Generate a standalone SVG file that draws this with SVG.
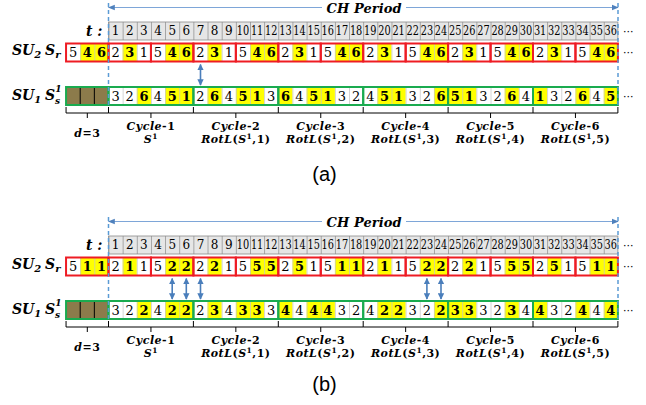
<svg xmlns="http://www.w3.org/2000/svg" width="646" height="405" viewBox="0 0 646 405">
<style>
.num{font-family:"DejaVu Serif","Liberation Serif",serif;font-size:13px;text-anchor:middle;fill:#000}
.b{font-weight:bold}
.tn{font-family:"DejaVu Serif","Liberation Serif",serif;font-size:12px;text-anchor:middle;fill:#000}
.lab{font-family:"DejaVu Serif","Liberation Serif",serif;font-style:italic;font-weight:bold;fill:#000}
.cyc{font-family:"DejaVu Serif","Liberation Serif",serif;font-size:11px;font-weight:bold;letter-spacing:0.5px;text-anchor:middle;fill:#000}
.it{font-style:italic}
.dots{font-family:"DejaVu Sans",sans-serif;font-size:11px;fill:#000}
.cap{font-family:"Liberation Sans",Arial,sans-serif;font-size:20px;text-anchor:middle;fill:#000}
.yel{fill:#ffff00}
.red{fill:none;stroke:#ee1c24;stroke-width:2}
.grn{fill:none;stroke:#1aab4f;stroke-width:2}
.dash{stroke:#5b9bd5;stroke-width:1.5;stroke-dasharray:4 3;fill:none}
.chl{stroke:#7ea6d8;stroke-width:1.2;fill:none}
.br{stroke:#000;stroke-width:1;fill:none}
.arr{stroke:#4a7ebb;stroke-width:1.6;fill:none;marker-start:url(#ah);marker-end:url(#ah)}
</style>
<defs>
<marker id="ah" viewBox="0 0 10 10" refX="9" refY="5" markerWidth="4" markerHeight="4" orient="auto-start-reverse"><path d="M0 0L10 5L0 10z" fill="#4a7ebb"/></marker>
<marker id="cha" viewBox="0 0 10 10" refX="9" refY="5" markerUnits="userSpaceOnUse" markerWidth="7" markerHeight="7" orient="auto-start-reverse"><path d="M0 1L10 5L0 9z" fill="#4f81bd"/></marker>
<pattern id="gl" patternUnits="userSpaceOnUse" x="108.5" y="0" width="14.15" height="405"><line x1="0.4" y1="0" x2="0.4" y2="405" stroke="#c4c4c4" stroke-width="0.8"/></pattern>
<pattern id="tl" patternUnits="userSpaceOnUse" x="108.5" y="0" width="14.15" height="405"><line x1="0.4" y1="0" x2="0.4" y2="405" stroke="#8a8a8a" stroke-width="0.8"/></pattern>
</defs>
<rect width="646" height="405" fill="#fff"/>

<!-- ================= PANEL A ================= -->
<g id="panel-a">
  <g id="a-period">
    <path class="chl" d="M108.5 7.5H322" marker-start="url(#cha)"/>
    <path class="chl" d="M406 7.5H618" marker-end="url(#cha)"/>
    <text class="lab" x="364" y="12.5" font-size="13" text-anchor="middle" textLength="75">CH Period</text>
  </g>
  <g id="a-t">
    <text class="lab" x="86" y="35.5" font-size="14">t :</text>
    <rect x="108.5" y="22" width="509.4" height="18" fill="#e6e6e6" stroke="#8a8a8a" stroke-width="0.8"/>
    <rect x="108.5" y="22" width="509.4" height="18" fill="url(#tl)"/>
    <g class="tn" transform="translate(0,35.4)">
      <text x="115.6">1</text><text x="129.7">2</text><text x="143.9">3</text><text x="158">4</text><text x="172.2">5</text><text x="186.3">6</text><text x="200.5">7</text><text x="214.6">8</text><text x="228.8">9</text>
      <text x="242.9" textLength="12.4" lengthAdjust="spacingAndGlyphs">10</text><text x="257.1" textLength="12.4" lengthAdjust="spacingAndGlyphs">11</text><text x="271.2" textLength="12.4" lengthAdjust="spacingAndGlyphs">12</text><text x="285.4" textLength="12.4" lengthAdjust="spacingAndGlyphs">13</text><text x="299.5" textLength="12.4" lengthAdjust="spacingAndGlyphs">14</text><text x="313.7" textLength="12.4" lengthAdjust="spacingAndGlyphs">15</text><text x="327.8" textLength="12.4" lengthAdjust="spacingAndGlyphs">16</text><text x="342" textLength="12.4" lengthAdjust="spacingAndGlyphs">17</text><text x="356.1" textLength="12.4" lengthAdjust="spacingAndGlyphs">18</text>
      <text x="370.3" textLength="12.4" lengthAdjust="spacingAndGlyphs">19</text><text x="384.4" textLength="12.4" lengthAdjust="spacingAndGlyphs">20</text><text x="398.6" textLength="12.4" lengthAdjust="spacingAndGlyphs">21</text><text x="412.7" textLength="12.4" lengthAdjust="spacingAndGlyphs">22</text><text x="426.9" textLength="12.4" lengthAdjust="spacingAndGlyphs">23</text><text x="441" textLength="12.4" lengthAdjust="spacingAndGlyphs">24</text><text x="455.2" textLength="12.4" lengthAdjust="spacingAndGlyphs">25</text><text x="469.3" textLength="12.4" lengthAdjust="spacingAndGlyphs">26</text><text x="483.5" textLength="12.4" lengthAdjust="spacingAndGlyphs">27</text>
      <text x="497.6" textLength="12.4" lengthAdjust="spacingAndGlyphs">28</text><text x="511.8" textLength="12.4" lengthAdjust="spacingAndGlyphs">29</text><text x="525.9" textLength="12.4" lengthAdjust="spacingAndGlyphs">30</text><text x="540.1" textLength="12.4" lengthAdjust="spacingAndGlyphs">31</text><text x="554.2" textLength="12.4" lengthAdjust="spacingAndGlyphs">32</text><text x="568.4" textLength="12.4" lengthAdjust="spacingAndGlyphs">33</text><text x="582.5" textLength="12.4" lengthAdjust="spacingAndGlyphs">34</text><text x="596.7" textLength="12.4" lengthAdjust="spacingAndGlyphs">35</text><text x="610.8" textLength="12.4" lengthAdjust="spacingAndGlyphs">36</text>
    </g>
    <text class="dots" x="623" y="34.5">···</text>
  </g>
  <g id="a-sr">
    <text class="lab" x="12" y="55" font-size="14">SU<tspan font-size="10" dy="3">2</tspan></text>
    <text class="lab" x="45" y="55" font-size="14">S<tspan font-size="10" dy="3">r</tspan></text>
    <rect x="66.05" y="43.5" width="551.85" height="18" fill="#fff"/>
    <path class="yel" d="M80.2 43.5h14.15v18h-14.15zM94.35 43.5h14.15v18h-14.15zM122.65 43.5h14.15v18h-14.15zM165.1 43.5h14.15v18h-14.15zM179.25 43.5h14.15v18h-14.15zM207.55 43.5h14.15v18h-14.15zM250 43.5h14.15v18h-14.15zM264.15 43.5h14.15v18h-14.15zM292.45 43.5h14.15v18h-14.15zM334.9 43.5h14.15v18h-14.15zM349.05 43.5h14.15v18h-14.15zM377.35 43.5h14.15v18h-14.15zM419.8 43.5h14.15v18h-14.15zM433.95 43.5h14.15v18h-14.15zM462.25 43.5h14.15v18h-14.15zM504.7 43.5h14.15v18h-14.15zM518.85 43.5h14.15v18h-14.15zM547.15 43.5h14.15v18h-14.15zM589.6 43.5h14.15v18h-14.15zM603.75 43.5h14.15v18h-14.15z"/>
    <rect x="66.05" y="43.5" width="551.85" height="18" fill="url(#gl)"/>
    <g class="red">
      <rect x="66.05" y="43.5" width="42.45" height="18"/><rect x="108.5" y="43.5" width="42.45" height="18"/><rect x="150.95" y="43.5" width="42.45" height="18"/><rect x="193.4" y="43.5" width="42.45" height="18"/><rect x="235.85" y="43.5" width="42.45" height="18"/><rect x="278.3" y="43.5" width="42.45" height="18"/><rect x="320.75" y="43.5" width="42.45" height="18"/><rect x="363.2" y="43.5" width="42.45" height="18"/><rect x="405.65" y="43.5" width="42.45" height="18"/><rect x="448.1" y="43.5" width="42.45" height="18"/><rect x="490.55" y="43.5" width="42.45" height="18"/><rect x="533" y="43.5" width="42.45" height="18"/><rect x="575.45" y="43.5" width="42.45" height="18"/>
    </g>
    <g class="num" transform="translate(0,57.2)">
      <text x="73.1">5</text><text x="87.3" class="b">4</text><text x="101.4" class="b">6</text>
      <text x="115.6">2</text><text x="129.7" class="b">3</text><text x="143.9">1</text><text x="158">5</text><text x="172.2" class="b">4</text><text x="186.3" class="b">6</text>
      <text x="200.5">2</text><text x="214.6" class="b">3</text><text x="228.8">1</text><text x="242.9">5</text><text x="257.1" class="b">4</text><text x="271.2" class="b">6</text>
      <text x="285.4">2</text><text x="299.5" class="b">3</text><text x="313.7">1</text><text x="327.8">5</text><text x="342" class="b">4</text><text x="356.1" class="b">6</text>
      <text x="370.3">2</text><text x="384.4" class="b">3</text><text x="398.6">1</text><text x="412.7">5</text><text x="426.9" class="b">4</text><text x="441" class="b">6</text>
      <text x="455.2">2</text><text x="469.3" class="b">3</text><text x="483.5">1</text><text x="497.6">5</text><text x="511.8" class="b">4</text><text x="525.9" class="b">6</text>
      <text x="540.1">2</text><text x="554.2" class="b">3</text><text x="568.4">1</text><text x="582.5">5</text><text x="596.7" class="b">4</text><text x="610.8" class="b">6</text>
    </g>
    <text class="dots" x="623" y="56">···</text>
  </g>
  <g id="a-ss">
    <text class="lab" x="12" y="100" font-size="14">SU<tspan font-size="10" dy="3">1</tspan></text>
    <text class="lab" x="45" y="100" font-size="14">S<tspan font-size="9" dy="-8">1</tspan><tspan font-size="9" x="55" dy="12">s</tspan></text>
    <rect x="66.05" y="87" width="42.45" height="18" fill="#8c7b4b"/>
    <path d="M80.2 87v18M94.35 87v18" stroke="#000" stroke-width="1"/>
    <rect x="108.5" y="87" width="509.4" height="18" fill="#fff"/>
    <path class="yel" d="M136.8 87h14.15v18h-14.15zM165.1 87h14.15v18h-14.15zM179.25 87h14.15v18h-14.15zM207.55 87h14.15v18h-14.15zM235.85 87h14.15v18h-14.15zM250 87h14.15v18h-14.15zM278.3 87h14.15v18h-14.15zM306.6 87h14.15v18h-14.15zM320.75 87h14.15v18h-14.15zM377.35 87h14.15v18h-14.15zM391.5 87h14.15v18h-14.15zM433.95 87h14.15v18h-14.15zM448.1 87h14.15v18h-14.15zM462.25 87h14.15v18h-14.15zM504.7 87h14.15v18h-14.15zM533 87h14.15v18h-14.15zM575.45 87h14.15v18h-14.15zM603.75 87h14.15v18h-14.15z"/>
    <rect x="108.5" y="87" width="509.4" height="18" fill="url(#gl)"/>
    <g class="grn">
      <rect x="66.05" y="87" width="42.45" height="18"/><rect x="108.5" y="87" width="84.9" height="18"/><rect x="193.4" y="87" width="84.9" height="18"/><rect x="278.3" y="87" width="84.9" height="18"/><rect x="363.2" y="87" width="84.9" height="18"/><rect x="448.1" y="87" width="84.9" height="18"/><rect x="533" y="87" width="84.9" height="18"/>
    </g>
    <g class="num" transform="translate(0,100.7)">
      <text x="115.6">3</text><text x="129.7">2</text><text x="143.9" class="b">6</text><text x="158">4</text><text x="172.2" class="b">5</text><text x="186.3" class="b">1</text>
      <text x="200.5">2</text><text x="214.6" class="b">6</text><text x="228.8">4</text><text x="242.9" class="b">5</text><text x="257.1" class="b">1</text><text x="271.2">3</text>
      <text x="285.4" class="b">6</text><text x="299.5">4</text><text x="313.7" class="b">5</text><text x="327.8" class="b">1</text><text x="342">3</text><text x="356.1">2</text>
      <text x="370.3">4</text><text x="384.4" class="b">5</text><text x="398.6" class="b">1</text><text x="412.7">3</text><text x="426.9">2</text><text x="441" class="b">6</text>
      <text x="455.2" class="b">5</text><text x="469.3" class="b">1</text><text x="483.5">3</text><text x="497.6">2</text><text x="511.8" class="b">6</text><text x="525.9">4</text>
      <text x="540.1" class="b">1</text><text x="554.2">3</text><text x="568.4">2</text><text x="582.5" class="b">6</text><text x="596.7">4</text><text x="610.8" class="b">5</text>
    </g>
    <text class="dots" x="623" y="99.5">···</text>
  </g>
  <g id="a-dashes">
    <path class="dash" d="M108.5 3V107M618 3V107"/>
  </g>
  <g id="a-brackets">
    <path class="br" d="M66.05 107V113H108.5V107M87.3 113V118M108.5 113H193.4V107M150.95 113V118M193.4 113H278.3V107M235.85 113V118M278.3 113H363.2V107M320.75 113V118M363.2 113H448.1V107M405.65 113V118M448.1 113H533V107M490.55 113V118M533 113H617.9V107M575.45 113V118"/>
  </g>
  <g id="a-labels" class="cyc">
    <text x="87.3" y="136.5"><tspan class="it">d</tspan>=3</text>
    <text x="150.95" y="130"><tspan class="it">Cycle</tspan>-1</text>
    <text x="150.95" y="143.3"><tspan class="it">S</tspan><tspan font-size="7.5" dy="-4">1</tspan></text>
    <text x="235.85" y="130"><tspan class="it">Cycle</tspan>-2</text>
    <text x="235.85" y="143.3"><tspan class="it">RotL</tspan>(<tspan class="it">S</tspan><tspan font-size="7.5" dy="-4">1</tspan><tspan dy="4">,1)</tspan></text>
    <text x="320.75" y="130"><tspan class="it">Cycle</tspan>-3</text>
    <text x="320.75" y="143.3"><tspan class="it">RotL</tspan>(<tspan class="it">S</tspan><tspan font-size="7.5" dy="-4">1</tspan><tspan dy="4">,2)</tspan></text>
    <text x="405.65" y="130"><tspan class="it">Cycle</tspan>-4</text>
    <text x="405.65" y="143.3"><tspan class="it">RotL</tspan>(<tspan class="it">S</tspan><tspan font-size="7.5" dy="-4">1</tspan><tspan dy="4">,3)</tspan></text>
    <text x="490.55" y="130"><tspan class="it">Cycle</tspan>-5</text>
    <text x="490.55" y="143.3"><tspan class="it">RotL</tspan>(<tspan class="it">S</tspan><tspan font-size="7.5" dy="-4">1</tspan><tspan dy="4">,4)</tspan></text>
    <text x="575.45" y="130"><tspan class="it">Cycle</tspan>-6</text>
    <text x="575.45" y="143.3"><tspan class="it">RotL</tspan>(<tspan class="it">S</tspan><tspan font-size="7.5" dy="-4">1</tspan><tspan dy="4">,5)</tspan></text>
  </g>
  <text class="cap" x="324.5" y="181">(a)</text>
</g>

<!-- ================= PANEL B ================= -->
<g id="panel-b">
 <g transform="translate(0,214)">
  <g id="b-period">
    <path class="chl" d="M108.5 7.5H322" marker-start="url(#cha)"/>
    <path class="chl" d="M406 7.5H618" marker-end="url(#cha)"/>
    <text class="lab" x="364" y="12.5" font-size="13" text-anchor="middle" textLength="75">CH Period</text>
  </g>
  <g id="b-t">
    <text class="lab" x="86" y="35.5" font-size="14">t :</text>
    <rect x="108.5" y="22" width="509.4" height="18" fill="#e6e6e6" stroke="#8a8a8a" stroke-width="0.8"/>
    <rect x="108.5" y="22" width="509.4" height="18" fill="url(#tl)"/>
    <g class="tn" transform="translate(0,35.4)">
      <text x="115.6">1</text><text x="129.7">2</text><text x="143.9">3</text><text x="158">4</text><text x="172.2">5</text><text x="186.3">6</text><text x="200.5">7</text><text x="214.6">8</text><text x="228.8">9</text>
      <text x="242.9" textLength="12.4" lengthAdjust="spacingAndGlyphs">10</text><text x="257.1" textLength="12.4" lengthAdjust="spacingAndGlyphs">11</text><text x="271.2" textLength="12.4" lengthAdjust="spacingAndGlyphs">12</text><text x="285.4" textLength="12.4" lengthAdjust="spacingAndGlyphs">13</text><text x="299.5" textLength="12.4" lengthAdjust="spacingAndGlyphs">14</text><text x="313.7" textLength="12.4" lengthAdjust="spacingAndGlyphs">15</text><text x="327.8" textLength="12.4" lengthAdjust="spacingAndGlyphs">16</text><text x="342" textLength="12.4" lengthAdjust="spacingAndGlyphs">17</text><text x="356.1" textLength="12.4" lengthAdjust="spacingAndGlyphs">18</text>
      <text x="370.3" textLength="12.4" lengthAdjust="spacingAndGlyphs">19</text><text x="384.4" textLength="12.4" lengthAdjust="spacingAndGlyphs">20</text><text x="398.6" textLength="12.4" lengthAdjust="spacingAndGlyphs">21</text><text x="412.7" textLength="12.4" lengthAdjust="spacingAndGlyphs">22</text><text x="426.9" textLength="12.4" lengthAdjust="spacingAndGlyphs">23</text><text x="441" textLength="12.4" lengthAdjust="spacingAndGlyphs">24</text><text x="455.2" textLength="12.4" lengthAdjust="spacingAndGlyphs">25</text><text x="469.3" textLength="12.4" lengthAdjust="spacingAndGlyphs">26</text><text x="483.5" textLength="12.4" lengthAdjust="spacingAndGlyphs">27</text>
      <text x="497.6" textLength="12.4" lengthAdjust="spacingAndGlyphs">28</text><text x="511.8" textLength="12.4" lengthAdjust="spacingAndGlyphs">29</text><text x="525.9" textLength="12.4" lengthAdjust="spacingAndGlyphs">30</text><text x="540.1" textLength="12.4" lengthAdjust="spacingAndGlyphs">31</text><text x="554.2" textLength="12.4" lengthAdjust="spacingAndGlyphs">32</text><text x="568.4" textLength="12.4" lengthAdjust="spacingAndGlyphs">33</text><text x="582.5" textLength="12.4" lengthAdjust="spacingAndGlyphs">34</text><text x="596.7" textLength="12.4" lengthAdjust="spacingAndGlyphs">35</text><text x="610.8" textLength="12.4" lengthAdjust="spacingAndGlyphs">36</text>
    </g>
    <text class="dots" x="623" y="34.5">···</text>
  </g>
  <g id="b-sr">
    <text class="lab" x="12" y="55" font-size="14">SU<tspan font-size="10" dy="3">2</tspan></text>
    <text class="lab" x="45" y="55" font-size="14">S<tspan font-size="10" dy="3">r</tspan></text>
    <rect x="66.05" y="43.5" width="551.85" height="18" fill="#fff"/>
    <path class="yel" d="M80.2 43.5h14.15v18h-14.15zM94.35 43.5h14.15v18h-14.15zM122.65 43.5h14.15v18h-14.15zM165.1 43.5h14.15v18h-14.15zM179.25 43.5h14.15v18h-14.15zM207.55 43.5h14.15v18h-14.15zM250 43.5h14.15v18h-14.15zM264.15 43.5h14.15v18h-14.15zM292.45 43.5h14.15v18h-14.15zM334.9 43.5h14.15v18h-14.15zM349.05 43.5h14.15v18h-14.15zM377.35 43.5h14.15v18h-14.15zM419.8 43.5h14.15v18h-14.15zM433.95 43.5h14.15v18h-14.15zM462.25 43.5h14.15v18h-14.15zM504.7 43.5h14.15v18h-14.15zM518.85 43.5h14.15v18h-14.15zM547.15 43.5h14.15v18h-14.15zM589.6 43.5h14.15v18h-14.15zM603.75 43.5h14.15v18h-14.15z"/>
    <rect x="66.05" y="43.5" width="551.85" height="18" fill="url(#gl)"/>
    <g class="red">
      <rect x="66.05" y="43.5" width="42.45" height="18"/><rect x="108.5" y="43.5" width="42.45" height="18"/><rect x="150.95" y="43.5" width="42.45" height="18"/><rect x="193.4" y="43.5" width="42.45" height="18"/><rect x="235.85" y="43.5" width="42.45" height="18"/><rect x="278.3" y="43.5" width="42.45" height="18"/><rect x="320.75" y="43.5" width="42.45" height="18"/><rect x="363.2" y="43.5" width="42.45" height="18"/><rect x="405.65" y="43.5" width="42.45" height="18"/><rect x="448.1" y="43.5" width="42.45" height="18"/><rect x="490.55" y="43.5" width="42.45" height="18"/><rect x="533" y="43.5" width="42.45" height="18"/><rect x="575.45" y="43.5" width="42.45" height="18"/>
    </g>
    <g class="num" transform="translate(0,57.2)">
      <text x="73.1">5</text><text x="87.3" class="b">1</text><text x="101.4" class="b">1</text>
      <text x="115.6">2</text><text x="129.7" class="b">1</text><text x="143.9">1</text><text x="158">5</text><text x="172.2" class="b">2</text><text x="186.3" class="b">2</text>
      <text x="200.5">2</text><text x="214.6" class="b">2</text><text x="228.8">1</text><text x="242.9">5</text><text x="257.1" class="b">5</text><text x="271.2" class="b">5</text>
      <text x="285.4">2</text><text x="299.5" class="b">5</text><text x="313.7">1</text><text x="327.8">5</text><text x="342" class="b">1</text><text x="356.1" class="b">1</text>
      <text x="370.3">2</text><text x="384.4" class="b">1</text><text x="398.6">1</text><text x="412.7">5</text><text x="426.9" class="b">2</text><text x="441" class="b">2</text>
      <text x="455.2">2</text><text x="469.3" class="b">2</text><text x="483.5">1</text><text x="497.6">5</text><text x="511.8" class="b">5</text><text x="525.9" class="b">5</text>
      <text x="540.1">2</text><text x="554.2" class="b">5</text><text x="568.4">1</text><text x="582.5">5</text><text x="596.7" class="b">1</text><text x="610.8" class="b">1</text>
    </g>
    <text class="dots" x="623" y="56">···</text>
  </g>
  <g id="b-ss">
    <text class="lab" x="12" y="100" font-size="14">SU<tspan font-size="10" dy="3">1</tspan></text>
    <text class="lab" x="45" y="100" font-size="14">S<tspan font-size="9" dy="-8">1</tspan><tspan font-size="9" x="55" dy="12">s</tspan></text>
    <rect x="66.05" y="87" width="42.45" height="18" fill="#8c7b4b"/>
    <path d="M80.2 87v18M94.35 87v18" stroke="#000" stroke-width="1"/>
    <rect x="108.5" y="87" width="509.4" height="18" fill="#fff"/>
    <path class="yel" d="M136.8 87h14.15v18h-14.15zM165.1 87h14.15v18h-14.15zM179.25 87h14.15v18h-14.15zM207.55 87h14.15v18h-14.15zM235.85 87h14.15v18h-14.15zM250 87h14.15v18h-14.15zM278.3 87h14.15v18h-14.15zM306.6 87h14.15v18h-14.15zM320.75 87h14.15v18h-14.15zM377.35 87h14.15v18h-14.15zM391.5 87h14.15v18h-14.15zM433.95 87h14.15v18h-14.15zM448.1 87h14.15v18h-14.15zM462.25 87h14.15v18h-14.15zM504.7 87h14.15v18h-14.15zM533 87h14.15v18h-14.15zM575.45 87h14.15v18h-14.15zM603.75 87h14.15v18h-14.15z"/>
    <rect x="108.5" y="87" width="509.4" height="18" fill="url(#gl)"/>
    <g class="grn">
      <rect x="66.05" y="87" width="42.45" height="18"/><rect x="108.5" y="87" width="84.9" height="18"/><rect x="193.4" y="87" width="84.9" height="18"/><rect x="278.3" y="87" width="84.9" height="18"/><rect x="363.2" y="87" width="84.9" height="18"/><rect x="448.1" y="87" width="84.9" height="18"/><rect x="533" y="87" width="84.9" height="18"/>
    </g>
    <g class="num" transform="translate(0,100.7)">
      <text x="115.6">3</text><text x="129.7">2</text><text x="143.9" class="b">2</text><text x="158">4</text><text x="172.2" class="b">2</text><text x="186.3" class="b">2</text>
      <text x="200.5">2</text><text x="214.6" class="b">3</text><text x="228.8">4</text><text x="242.9" class="b">3</text><text x="257.1" class="b">3</text><text x="271.2">3</text>
      <text x="285.4" class="b">4</text><text x="299.5">4</text><text x="313.7" class="b">4</text><text x="327.8" class="b">4</text><text x="342">3</text><text x="356.1">2</text>
      <text x="370.3">4</text><text x="384.4" class="b">2</text><text x="398.6" class="b">2</text><text x="412.7">3</text><text x="426.9">2</text><text x="441" class="b">2</text>
      <text x="455.2" class="b">3</text><text x="469.3" class="b">3</text><text x="483.5">3</text><text x="497.6">2</text><text x="511.8" class="b">3</text><text x="525.9">4</text>
      <text x="540.1" class="b">4</text><text x="554.2">3</text><text x="568.4">2</text><text x="582.5" class="b">4</text><text x="596.7">4</text><text x="610.8" class="b">4</text>
    </g>
    <text class="dots" x="623" y="99.5">···</text>
  </g>
  <g id="b-dashes">
    <path class="dash" d="M108.5 3V107M618 3V107"/>
  </g>
  <g id="b-brackets">
    <path class="br" d="M66.05 107V113H108.5V107M87.3 113V118M108.5 113H193.4V107M150.95 113V118M193.4 113H278.3V107M235.85 113V118M278.3 113H363.2V107M320.75 113V118M363.2 113H448.1V107M405.65 113V118M448.1 113H533V107M490.55 113V118M533 113H617.9V107M575.45 113V118"/>
  </g>
  <g id="b-labels" class="cyc">
    <text x="87.3" y="136.5"><tspan class="it">d</tspan>=3</text>
    <text x="150.95" y="130"><tspan class="it">Cycle</tspan>-1</text>
    <text x="150.95" y="143.3"><tspan class="it">S</tspan><tspan font-size="7.5" dy="-4">1</tspan></text>
    <text x="235.85" y="130"><tspan class="it">Cycle</tspan>-2</text>
    <text x="235.85" y="143.3"><tspan class="it">RotL</tspan>(<tspan class="it">S</tspan><tspan font-size="7.5" dy="-4">1</tspan><tspan dy="4">,1)</tspan></text>
    <text x="320.75" y="130"><tspan class="it">Cycle</tspan>-3</text>
    <text x="320.75" y="143.3"><tspan class="it">RotL</tspan>(<tspan class="it">S</tspan><tspan font-size="7.5" dy="-4">1</tspan><tspan dy="4">,2)</tspan></text>
    <text x="405.65" y="130"><tspan class="it">Cycle</tspan>-4</text>
    <text x="405.65" y="143.3"><tspan class="it">RotL</tspan>(<tspan class="it">S</tspan><tspan font-size="7.5" dy="-4">1</tspan><tspan dy="4">,3)</tspan></text>
    <text x="490.55" y="130"><tspan class="it">Cycle</tspan>-5</text>
    <text x="490.55" y="143.3"><tspan class="it">RotL</tspan>(<tspan class="it">S</tspan><tspan font-size="7.5" dy="-4">1</tspan><tspan dy="4">,4)</tspan></text>
    <text x="575.45" y="130"><tspan class="it">Cycle</tspan>-6</text>
    <text x="575.45" y="143.3"><tspan class="it">RotL</tspan>(<tspan class="it">S</tspan><tspan font-size="7.5" dy="-4">1</tspan><tspan dy="4">,5)</tspan></text>
  </g>
 </g>
 <text class="cap" x="324.5" y="391">(b)</text>
</g>

<!-- ================= CONNECTORS ================= -->
<g id="connectors">
  <path class="arr" d="M200.5 64.5V85"/>
  <path class="arr" d="M172.2 278.5V299"/>
  <path class="arr" d="M186.3 278.5V299"/>
  <path class="arr" d="M200.5 278.5V299"/>
  <path class="arr" d="M426.9 278.5V299"/>
  <path class="arr" d="M441 278.5V299"/>
</g>
</svg>
